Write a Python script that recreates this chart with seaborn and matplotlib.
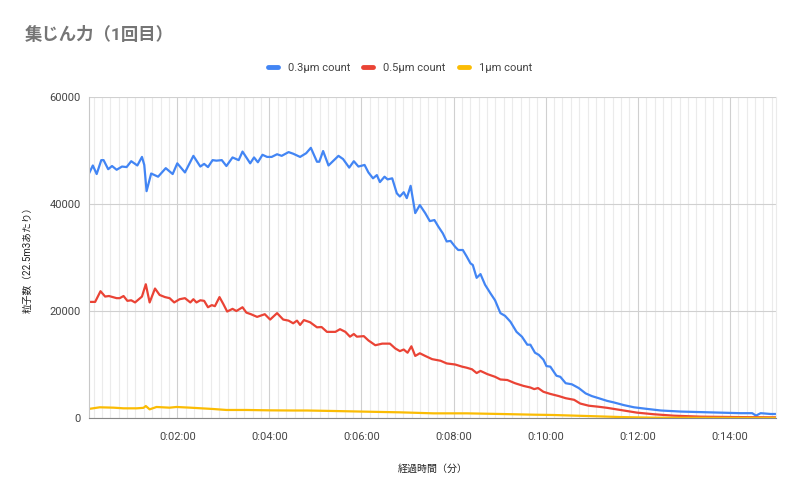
import numpy as np
import pandas as pd
import seaborn as sns
import matplotlib.pyplot as plt
from matplotlib.ticker import FuncFormatter

# 経過時間（秒）と粒子数、グラフから読み取り
t_03 = [5, 10, 15, 21, 24, 30, 35, 41, 48, 54, 60, 68, 74, 77, 80, 86, 95, 105, 114, 120,
        130, 141, 150, 155, 160, 166, 171, 178, 184, 192, 200, 205, 215, 220, 225, 231, 237, 243, 250, 256,
        265, 271, 280, 288, 294, 302, 305, 310, 317, 330, 336, 344, 350, 356, 364, 369, 375, 380, 384, 390,
        394, 400, 406, 410, 415, 419, 424, 430, 436, 443, 449, 455, 460, 466, 471, 476, 482, 486, 492, 497,
        502, 505, 510, 515, 521, 528, 534, 541, 547, 554, 562, 569, 576, 580, 586, 591, 597, 601, 606, 614,
        619, 626, 634, 643, 652, 660, 669, 680, 689, 702, 715, 732, 750, 776, 802, 828, 854, 869, 874, 880,
        893, 900]
v_03 = [45700, 47200, 45600, 48200, 48200, 46500, 47100, 46400, 47000, 46900, 48000, 47200, 48800, 47300, 42400, 45700, 45100, 46700, 45600, 47600,
        45900, 49000, 47000, 47500, 46900, 48200, 48100, 48200, 47100, 48700, 48200, 49800, 47600, 48700, 47800, 49200, 48800, 48800, 49300, 49000,
        49700, 49400, 48800, 49500, 50500, 47900, 47900, 49900, 47200, 49000, 48400, 46800, 48000, 47000, 47300, 45900, 44800, 45400, 44100, 45100,
        44600, 44800, 42000, 41400, 42200, 41100, 43400, 38300, 39800, 38300, 36800, 37000, 35800, 34500, 33000, 33100, 32000, 31400, 31400, 30200,
        28900, 28600, 26200, 26900, 24900, 23300, 22000, 19600, 19100, 18000, 16100, 15200, 13700, 13700, 12200, 11800, 10900, 9700, 9600, 7900,
        7700, 6500, 6300, 5600, 4600, 4100, 3700, 3200, 2900, 2400, 2000, 1700, 1400, 1200, 1100, 1000, 900, 900, 450, 900,
        750, 750]

t_05 = [5, 13, 20, 26, 31, 41, 45, 50, 55, 60, 65, 74, 79, 84, 91, 97, 104, 110, 116, 123,
        130, 137, 141, 145, 150, 155, 160, 165, 169, 175, 180, 185, 192, 197, 205, 210, 216, 224, 234, 241,
        250, 258, 265, 271, 276, 280, 285, 293, 302, 308, 315, 326, 332, 339, 345, 350, 354, 363, 369, 378,
        387, 397, 404, 410, 415, 420, 425, 430, 436, 443, 452, 463, 471, 482, 491, 497, 504, 510, 515, 524,
        534, 541, 550, 560, 571, 580, 585, 590, 597, 606, 617, 626, 637, 645, 656, 669, 680, 693, 706, 719,
        741, 767, 802, 845, 893, 900]
v_05 = [21700, 21700, 23700, 22700, 22800, 22400, 22400, 22800, 21900, 22000, 21600, 22700, 25000, 21600, 24200, 23000, 22600, 22400, 21600, 22200,
        22400, 21600, 22200, 21600, 22000, 21900, 20700, 21100, 20900, 22600, 21300, 19900, 20400, 20000, 20700, 19700, 19400, 18900, 19400, 18400,
        19600, 18400, 18200, 17700, 18200, 17400, 18300, 17900, 16950, 17000, 16100, 16100, 16600, 16100, 15200, 15700, 15200, 15300, 14500, 13600,
        13900, 13900, 13000, 12500, 12800, 12200, 13400, 11600, 12100, 11600, 11000, 10700, 10200, 10000, 9600, 9400, 9100, 8400, 8800, 8200,
        7700, 7200, 7100, 6500, 6000, 5700, 5400, 5600, 4900, 4500, 4100, 3700, 3400, 2700, 2300, 2100, 1900, 1600, 1300, 1000,
        700, 430, 250, 180, 120, 120]

t_1 = [5, 19, 37, 50, 67, 76, 79, 84, 93, 110, 119, 137, 167, 184, 210, 241, 271, 289, 323, 367,
       410, 454, 497, 541, 584, 610, 654, 697, 741, 893, 900]
v_1 = [1700, 2000, 1930, 1810, 1810, 1900, 2240, 1620, 2060, 1930, 2060, 1930, 1680, 1500, 1500, 1430, 1400, 1400, 1310, 1180,
       1060, 870, 870, 750, 620, 560, 370, 180, 60, 20, 20]

series = ["0.3µm count", "0.5µm count", "1µm count"]
colors = {"0.3µm count": "#4285F4", "0.5µm count": "#EA4335", "1µm count": "#FBBC04"}

df = pd.concat([
    pd.DataFrame({"time": t_03, "count": v_03, "series": series[0]}),
    pd.DataFrame({"time": t_05, "count": v_05, "series": series[1]}),
    pd.DataFrame({"time": t_1, "count": v_1, "series": series[2]}),
])

sns.set_theme(style="white")
plt.rcParams["font.family"] = ["Roboto", "Noto Sans CJK JP", "DejaVu Sans"]

fig = plt.figure(figsize=(8, 4.93), dpi=100)
ax = fig.add_axes([89 / 800, 75 / 493, 687 / 800, 321 / 493])

sns.lineplot(data=df, x="time", y="count", hue="series", hue_order=series,
             palette=colors, estimator=None, linewidth=1.6, ax=ax)
for ln in ax.lines:
    ln.set_solid_joinstyle("round")

ax.set_xlim(5, 900)
ax.set_ylim(0, 60000)

major = np.arange(120, 900, 120)
minor = 120 + np.arange(-10, 72) * (120 / 11)
minor = minor[(minor > 5) & (minor < 900)]
ax.set_xticks(major)
ax.set_xticks(minor, minor=True)
ax.xaxis.set_major_formatter(FuncFormatter(lambda s, p: f"0:{int(s // 60):02d}:00"))
ax.set_yticks([0, 20000, 40000, 60000])

ax.grid(which="minor", axis="x", color="#ebebeb", linewidth=0.8)
ax.grid(which="major", axis="x", color="#d0d0d0", linewidth=0.8)
ax.grid(which="major", axis="y", color="#d0d0d0", linewidth=0.8)
ax.set_axisbelow(True)

ax.tick_params(axis="x", which="major", direction="inout", length=8, width=0.8,
               color="#666666", labelsize=8, labelcolor="#444444", pad=6)
ax.tick_params(axis="x", which="minor", length=0)
ax.tick_params(axis="y", length=0, labelsize=8, labelcolor="#444444", pad=6)

ax.spines["top"].set_visible(False)
ax.spines["right"].set_color("#ebebeb")
ax.spines["left"].set_color("#c8c8c8")
ax.spines["bottom"].set_color("#888888")
for s in ax.spines.values():
    s.set_linewidth(0.8)

ax.set_xlabel("経過時間（分）", fontsize=7.2, color="#222222", labelpad=16)
ax.set_ylabel("粒子数（22.5m3あたり）", fontsize=7, color="#222222", labelpad=12)

handles, labels = ax.get_legend_handles_labels()
ax.get_legend().remove()
leg = fig.legend(handles, labels, loc="center", bbox_to_anchor=(0.5, 1 - 68 / 493),
                 ncol=3, frameon=False, fontsize=8, handlelength=0.9,
                 handletextpad=0.9, columnspacing=1.2)
for h in leg.get_lines():
    h.set_linewidth(3.5)
    h.set_solid_capstyle("round")
for t in leg.get_texts():
    t.set_color("#444444")

fig.text(25 / 800, 1 - 35 / 493, "集じん力（1回目）", fontsize=12.5, fontweight="bold",
         color="#757575", ha="left", va="center")

fig.savefig("out.png", dpi=100)
